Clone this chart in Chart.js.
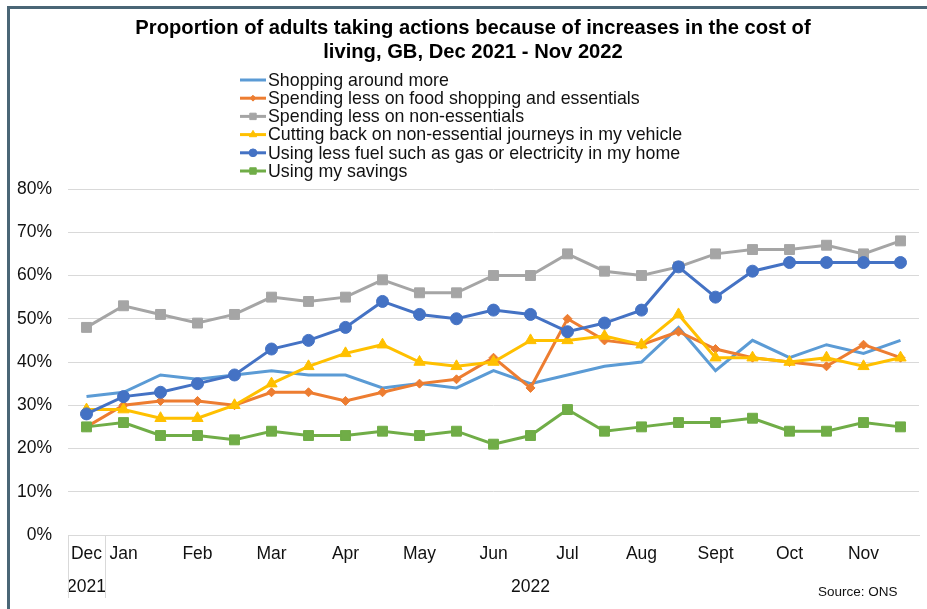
<!DOCTYPE html>
<html><head><meta charset="utf-8">
<script src="https://cdn.jsdelivr.net/npm/chart.js@4"></script>
<style>
html,body{margin:0;padding:0;background:#fff;}
#wrap{position:relative;width:927px;height:609px;overflow:hidden;}
#frame{position:absolute;left:7px;top:6px;right:-10px;bottom:-10px;border-top:3px solid #4a6676;border-left:3px solid #4a6676;pointer-events:none;}
#src{position:absolute;left:818px;top:584px;font:13.5px "Liberation Sans",Arial,sans-serif;color:#111;white-space:nowrap;}
</style></head>
<body><div id="wrap"><canvas id="c" width="927" height="609"></canvas><div id="frame"></div><div id="src">Source: ONS</div></div>
<script>
// Survey periods (fortnightly), Dec 2021 - Nov 2022
const monthTicks = ['Dec','Jan','','Feb','','Mar','','Apr','','May','','Jun','','Jul','','Aug','','Sept','','Oct','','Nov',''];
const yearTicks  = ['2021','','','','','','','','','','','','2022','','','','','','','','','',''];
const seriesNames = [
  'Shopping around more',
  'Spending less on food shopping and essentials',
  'Spending less on non-essentials',
  'Cutting back on non-essential journeys in my vehicle',
  'Using less fuel such as gas or electricity in my home',
  'Using my savings'
];
const shoppingAround   = [32,33,37,36,37,38,37,37,34,35,34,38,35,37,39,40,48,38,45,41,44,42,45];
const lessFood         = [25,30,31,31,30,33,33,31,33,35,36,41,34,50,45,44,47,43,41,40,39,44,41];
const lessNonEssential = [48,53,51,49,51,55,54,55,59,56,56,60,60,65,61,60,62,65,66,66,67,65,68];
const fewerJourneys    = [29,29,27,27,30,35,39,42,44,40,39,40,45,45,46,44,51,41,41,40,41,39,41];
const lessFuel         = [28,32,33,35,37,43,45,48,54,51,50,52,51,47,49,52,62,55,61,63,63,63,63];
const usingSavings     = [25,26,23,23,22,24,23,23,24,23,24,21,23,29,24,25,26,26,27,24,24,26,25];
const yTicks = [0,10,20,30,40,50,60,70,80];

const FONT = '"Liberation Sans", Arial, sans-serif';
const series = [shoppingAround, lessFood, lessNonEssential, fewerJourneys, lessFuel, usingSavings];
const colors = ['#5B9BD5','#ED7D31','#A5A5A5','#FFC000','#4472C4','#70AD47'];
const styles = [false,'rectRot','rect','triangle','circle','rect'];
const radii  = [0,4.5,7,6.5,6,7];

const datasets = series.map((d, i) => ({
  label: seriesNames[i],
  data: d,
  borderColor: colors[i],
  backgroundColor: colors[i],
  pointBackgroundColor: colors[i],
  pointBorderColor: colors[i],
  borderWidth: 3,
  pointStyle: styles[i] || 'circle',
  pointRadius: radii[i],
  pointBorderWidth: 1,
  tension: 0,
  order: 10 - i
}));

const extras = {
  id: 'extras',
  afterLayout(chart) {
    // widen the label clip region of the y axis so the tick labels are not cut
    chart.scales.y.left = 0;
  },
  afterDraw(chart) {
    const ctx = chart.ctx, xs = chart.scales.x, ca = chart.chartArea;
    ctx.save();
    // separators below the category axis
    ctx.strokeStyle = '#d9d9d9'; ctx.lineWidth = 1;
    const seps = [ca.left, (xs.getPixelForValue(0) + xs.getPixelForValue(1)) / 2];
    seps.forEach(px => {
      const p = Math.round(px) + 0.5;
      ctx.beginPath(); ctx.moveTo(p, ca.bottom); ctx.lineTo(p, ca.bottom + 63); ctx.stroke();
    });
    // legend
    chart.data.datasets.forEach((ds, i) => {
      const y = 80 + i * 18.2;
      ctx.strokeStyle = ds.borderColor; ctx.lineWidth = 3;
      ctx.beginPath(); ctx.moveTo(240, y); ctx.lineTo(266, y); ctx.stroke();
      if (ds.pointRadius > 0) {
        ctx.fillStyle = ds.backgroundColor; ctx.strokeStyle = ds.borderColor; ctx.lineWidth = 1;
        Chart.helpers.drawPoint(ctx, {pointStyle: ds.pointStyle, rotation: 0, radius: ds.pointRadius * 0.65, borderWidth: 1}, 253, y);
      }
      ctx.fillStyle = '#111'; ctx.font = '17.8px ' + FONT; ctx.textBaseline = 'middle'; ctx.textAlign = 'left';
      ctx.fillText(ds.label, 268, y + 1);
    });
    ctx.restore();
  }
};

new Chart(document.getElementById('c'), {
  type: 'line',
  data: { labels: monthTicks.map((m, i) => i), datasets },
  options: {
    responsive: false,
    animation: false,
    layout: { padding: { top: 6, left: 23, right: 4, bottom: 0 } },
    plugins: {
      legend: { display: false },
      tooltip: { enabled: false },
      title: {
        display: true,
        text: ['Proportion of adults taking actions because of increases in the cost of', 'living, GB, Dec 2021 - Nov 2022'],
        color: '#000',
        font: { family: FONT, size: 20.2, weight: 'bold', lineHeight: '24px' },
        padding: { top: 10, bottom: 125 }
      }
    },
    scales: {
      x: {
        type: 'category',
        offset: true,
        grid: { display: false, drawTicks: false },
        border: { display: true, color: '#d9d9d9' },
        ticks: {
          autoSkip: false, maxRotation: 0, minRotation: 0, padding: 3,
          color: '#111', font: { family: FONT, size: 17.5, lineHeight: '33px' },
          callback: (v, i) => [monthTicks[i], yearTicks[i]]
        },
        afterFit: s => { s.height = 74; }
      },
      y: {
        min: 0, max: 80,
        afterBuildTicks: s => { s.ticks = yTicks.map(v => ({ value: v })); },
        grid: { color: '#d9d9d9', drawTicks: false },
        border: { display: false },
        ticks: { padding: 16, color: '#111', font: { family: FONT, size: 17.5 }, callback: v => v + '%' },
        afterFit: s => { s.width = 45; }
      }
    }
  },
  plugins: [extras]
});
</script>
</body></html>
